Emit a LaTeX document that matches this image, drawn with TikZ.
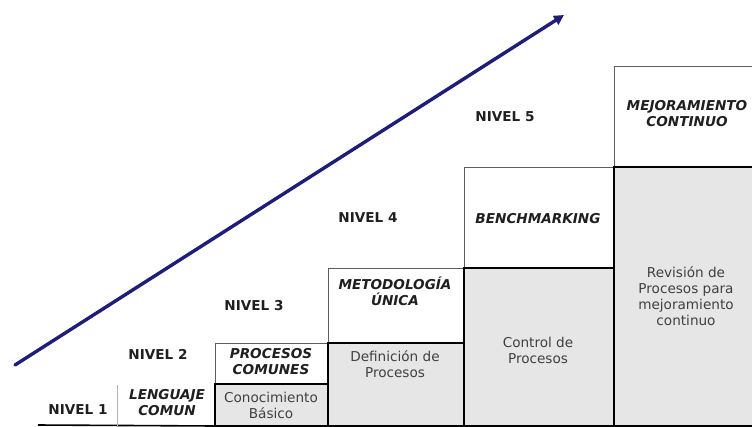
\documentclass[tikz,border=0pt]{standalone}
\usepackage{fontspec}
\setmainfont{DejaVu Sans}
\usetikzlibrary{arrows.meta}

\definecolor{navy}{HTML}{1E1E78}
\definecolor{stepgray}{HTML}{E6E6E6}
\definecolor{thinline}{HTML}{5E5E5E}
\definecolor{bodytext}{HTML}{404040}

\tikzset{
  upperbox/.style={draw=thinline, line width=1pt, fill=white,
    rectangle, inner sep=0pt, outer sep=0pt, anchor=north west},
  lowerbox/.style={draw=black, line width=2pt, fill=stepgray,
    rectangle, inner sep=0pt, outer sep=0pt, anchor=north west},
  level/.style={font=\fontsize{13.6}{16}\selectfont\bfseries, text=black!88},
  stage/.style={font=\fontsize{13.6}{16}\selectfont\bfseries\itshape,
    align=center, text=black!88, inner sep=0pt},
  task/.style={font=\fontsize{13.6}{16}\selectfont, align=center,
    text=bodytext, inner sep=0pt},
}

\begin{document}
\begin{tikzpicture}[x=1pt, y=-1pt]
  \useasboundingbox (0,0) rectangle (752,426);
  \clip (0,0) rectangle (752,426);

  % upper (white) boxes of each step
  \node[upperbox, minimum width=113pt, minimum height=41pt]  (u2) at (215,343) {};
  \node[upperbox, minimum width=136pt, minimum height=75pt]  (u3) at (328,268) {};
  \node[upperbox, minimum width=150pt, minimum height=101pt] (u4) at (464,167) {};
  \node[upperbox, minimum width=150pt, minimum height=101pt] (u5) at (614,66) {};

  % lower (grey) boxes of each step
  \node[lowerbox, minimum width=113pt, minimum height=42pt]  (g2) at (215,384) {};
  \node[lowerbox, minimum width=136pt, minimum height=83pt]  (g3) at (328,343) {};
  \node[lowerbox, minimum width=150pt, minimum height=158pt] (g4) at (464,268) {};
  \node[lowerbox, minimum width=150pt, minimum height=259pt] (g5) at (614,167) {};

  % ground line and the first step's divider
  \coordinate (b0) at (38,425);
  \coordinate (b1) at (g2.south west);
  \draw[line width=1.6pt] (b0) -- (b1);
  \coordinate (d0) at (117,385);
  \coordinate (d1) at (117,426);
  \draw[line width=0.9pt, black!30] (d0) -- (d1);

  % rising arrow
  \coordinate (a0) at (15,365);
  \coordinate (a1) at (564,15);
  \draw[navy, line width=3.4pt, line cap=round,
        -{Triangle[length=10pt, width=10pt]}] (a0) -- (a1);

  % level labels
  \node[level] (n1) at (78,410) {NIVEL 1};
  \node[level] (n2) at (158,354) {NIVEL 2};
  \node[level] (n3) at (254,306) {NIVEL 3};
  \node[level] (n4) at (368,218) {NIVEL 4};
  \node[level] (n5) at (505,117) {NIVEL 5};

  % stage names
  \node[stage] (s1) at (167,403) {LENGUAJE\\COMUN};
  \node[stage] (s2) at (271,362) {PROCESOS\\COMUNES};
  \node[stage] (s3) at (395,291) {METODOLOGÍA\\ÚNICA};
  \node[stage] (s4) at (538,219) {BENCHMARKING};
  \node[stage] (s5) at (687,114) {MEJORAMIENTO\\CONTINUO};

  % activities
  \node[task] (t2) at (271,405) {Conocimiento\\Básico};
  \node[task] (t3) at (395,364) {Definición de\\Procesos};
  \node[task] (t4) at (538,350) {Control de\\Procesos};
  \node[task] (t5) at (686,296) {Revisión de\\Procesos para\\mejoramiento\\continuo};
\end{tikzpicture}
\end{document}
